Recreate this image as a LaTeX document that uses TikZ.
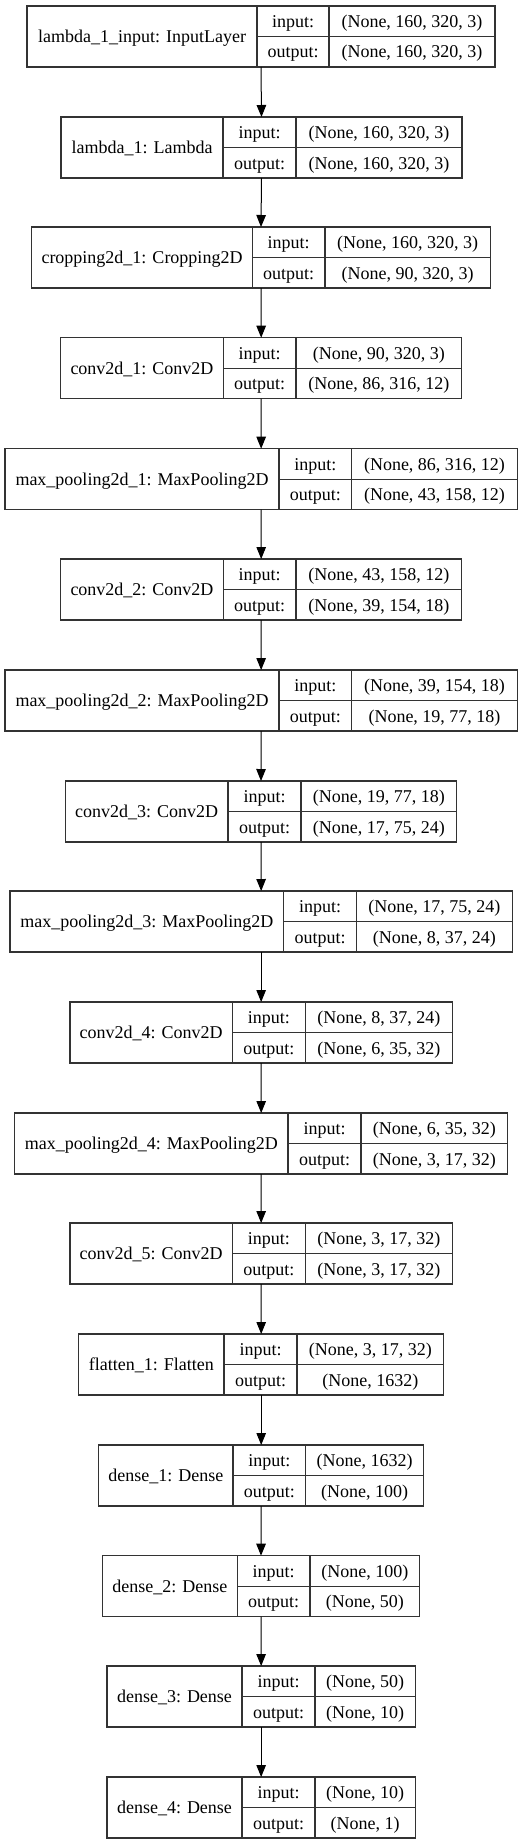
\documentclass[tikz,border=0pt]{standalone}
\usepackage{fontspec}
\setmainfont{Liberation Serif}
\usetikzlibrary{arrows.meta}
\tikzset{
  layerbox/.style={draw=black!80, line width=1.3pt, rectangle, inner sep=0pt, outer sep=0pt},
  cellline/.style={draw=black!80, line width=1.3pt},
  celltext/.style={inner sep=0pt, text height=12pt, text depth=0pt, font=\fontsize{18}{21}\selectfont, anchor=center},
  flowarrow/.style={draw=black, line width=1pt, -{Triangle[length=12pt,width=9.5pt]}}
}
\newcommand\kerasLayer[9]{%
  \node[layerbox, minimum width={(#6-#3)*1pt}, minimum height=61pt, anchor=north west] (#1) at (#3,#2) {};
  \draw[cellline] (#4,#2) -- (#4,{#2+61});
  \draw[cellline] (#5,#2) -- (#5,{#2+61});
  \draw[cellline] (#4,{#2+30.5}) -- (#6,{#2+30.5});
  \node[celltext] (#1-name) at ({(#3+#4)/2},{#2+30.5}) {#7};
  \node[celltext] (#1-inlab) at ({(#4+#5)/2},{#2+15.5}) {input:};
  \node[celltext] (#1-outlab) at ({(#4+#5)/2},{#2+46}) {output:};
  \node[celltext] (#1-in) at ({(#5+#6)/2},{#2+15.5}) {#8};
  \node[celltext] (#1-out) at ({(#5+#6)/2},{#2+46}) {#9};
}
\begin{document}
\begin{tikzpicture}[x=1pt,y=-1pt]
\fill[white] (0,0) rectangle (527,1844);
\useasboundingbox (0,0) rectangle (527,1844);
\kerasLayer{inp}{6}{27}{257}{329}{495}{lambda\_1\_input: InputLayer}{(None, 160, 320, 3)}{(None, 160, 320, 3)}
\kerasLayer{lam}{117}{61}{223}{296}{462}{lambda\_1: Lambda}{(None, 160, 320, 3)}{(None, 160, 320, 3)}
\kerasLayer{crop}{227}{31.7}{252.3}{325}{490.3}{cropping2d\_1: Cropping2D}{(None, 160, 320, 3)}{(None, 90, 320, 3)}
\kerasLayer{cva}{337.7}{60.7}{223.3}{296}{461.7}{conv2d\_1: Conv2D}{(None, 90, 320, 3)}{(None, 86, 316, 12)}
\kerasLayer{mpa}{448.7}{5}{279}{351.7}{517.3}{max\_pooling2d\_1: MaxPooling2D}{(None, 86, 316, 12)}{(None, 43, 158, 12)}
\kerasLayer{cvb}{559}{60.7}{223.3}{296}{461.7}{conv2d\_2: Conv2D}{(None, 43, 158, 12)}{(None, 39, 154, 18)}
\kerasLayer{mpb}{670}{5}{279}{351.7}{517.3}{max\_pooling2d\_2: MaxPooling2D}{(None, 39, 154, 18)}{(None, 19, 77, 18)}
\kerasLayer{cvc}{781}{65.3}{228}{301}{456.7}{conv2d\_3: Conv2D}{(None, 19, 77, 18)}{(None, 17, 75, 24)}
\kerasLayer{mpc}{891}{10}{283.7}{356.3}{512.3}{max\_pooling2d\_3: MaxPooling2D}{(None, 17, 75, 24)}{(None, 8, 37, 24)}
\kerasLayer{cvd}{1002}{70}{232.3}{305.3}{452.3}{conv2d\_4: Conv2D}{(None, 8, 37, 24)}{(None, 6, 35, 32)}
\kerasLayer{mpd}{1113}{14.7}{288}{361}{507.7}{max\_pooling2d\_4: MaxPooling2D}{(None, 6, 35, 32)}{(None, 3, 17, 32)}
\kerasLayer{cve}{1223}{70}{232.3}{305.3}{452.3}{conv2d\_5: Conv2D}{(None, 3, 17, 32)}{(None, 3, 17, 32)}
\kerasLayer{flt}{1334}{78.7}{224}{297}{443.7}{flatten\_1: Flatten}{(None, 3, 17, 32)}{(None, 1632)}
\kerasLayer{dna}{1445}{98.7}{233}{305.7}{423.7}{dense\_1: Dense}{(None, 1632)}{(None, 100)}
\kerasLayer{dnb}{1555.7}{102.3}{237.3}{310}{419.7}{dense\_2: Dense}{(None, 100)}{(None, 50)}
\kerasLayer{dnc}{1666}{107}{242}{315}{415.3}{dense\_3: Dense}{(None, 50)}{(None, 10)}
\kerasLayer{dnd}{1777}{107}{242}{315}{415.3}{dense\_4: Dense}{(None, 10)}{(None, 1)}
\foreach \a/\b in {inp/lam,lam/crop,crop/cva,cva/mpa,mpa/cvb,cvb/mpb,mpb/cvc,cvc/mpc,mpc/cvd,cvd/mpd,mpd/cve,cve/flt,flt/dna,dna/dnb,dnb/dnc,dnc/dnd}
  \draw[flowarrow] (\a.south) -- (\b.north);
\end{tikzpicture}
\end{document}
